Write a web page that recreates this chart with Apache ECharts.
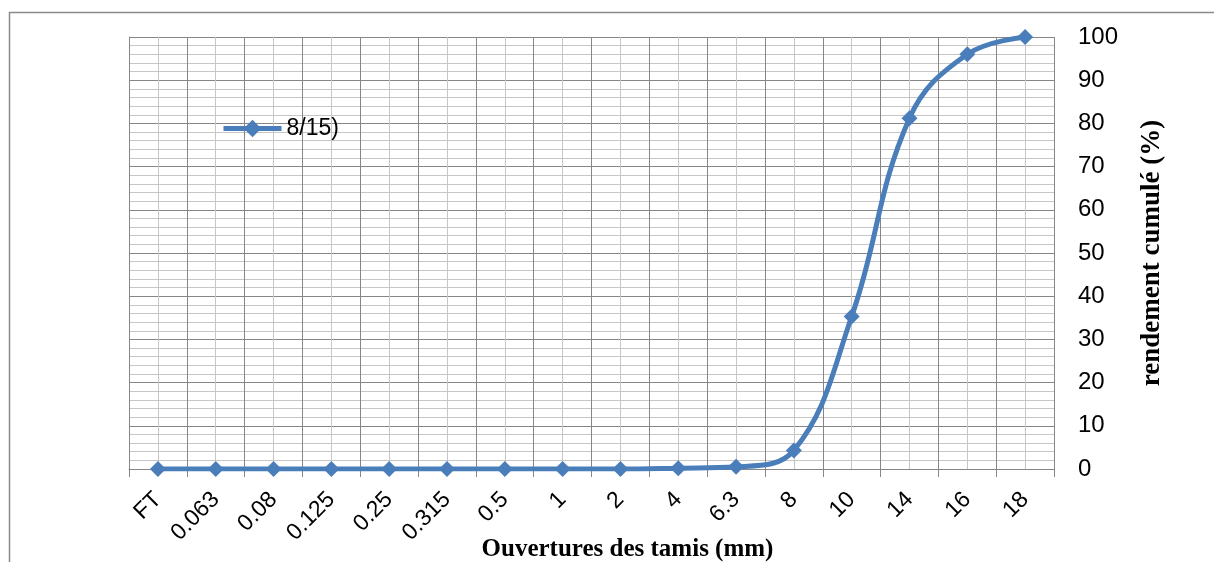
<!DOCTYPE html>
<html>
<head>
<meta charset="utf-8">
<script src="https://cdn.jsdelivr.net/npm/echarts@6/dist/echarts.min.js"></script>
<style>
  html, body { margin: 0; padding: 0; background: #fff; }
  #chart { width: 1214px; height: 562px; }
</style>
</head>
<body>
<div id="chart"></div>
<script>
// Sieve openings (mm) and cumulative passing (%) for the 8/15 aggregate
const sieveLabels = ['FT', '0.063', '0.08', '0.125', '0.25', '0.315', '0.5', '1', '2', '4', '6.3', '8', '10', '14', '16', '18'];
const cumulative = [0, 0, 0, 0, 0, 0, 0, 0, 0, 0.2, 0.5, 4.3, 35.3, 81.2, 96, 100];
const seriesName = '8/15)';
const yTicks = { min: 0, max: 100, step: 10 };

const major = '#868686';
const minor = '#c6c6c6';
const blue = '#4a7ebb';

const chart = echarts.init(document.getElementById('chart'), null, { renderer: 'canvas' });

chart.setOption({
  animation: false,
  backgroundColor: '#ffffff',
  graphic: [{
    type: 'rect',
    shape: { x: 9.5, y: 12.5, width: 1300, height: 600 },
    style: { fill: 'none', stroke: '#8a8a8a', lineWidth: 1.5 },
    silent: true
  }],
  grid: { left: 129, right: 160, top: 37, bottom: 93, containLabel: false, outerBoundsMode: 'none' },
  legend: {
    left: 216,
    top: 112,
    itemWidth: 58,
    itemHeight: 22,
    itemGap: 10,
    lineStyle: { width: 5 },
    textStyle: { fontFamily: 'Liberation Sans', fontSize: 23, color: '#000' },
    data: [seriesName]
  },
  xAxis: [{
    type: 'category',
    data: sieveLabels,
    boundaryGap: true,
    axisLine: { show: true, lineStyle: { color: major, width: 1 } },
    axisTick: { show: true, alignWithLabel: false, length: 8, lineStyle: { color: major } },
    axisLabel: {
      rotate: 45, margin: 27, interval: 0,
      fontFamily: 'Liberation Sans', fontSize: 23, color: '#000'
    },
    splitLine: { show: false },
    name: 'Ouvertures des tamis (mm)',
    nameLocation: 'middle',
    nameGap: 68,
    nameMoveOverlap: false,
    nameTextStyle: {
      fontFamily: 'Liberation Serif', fontWeight: 'bold', fontSize: 25, color: '#000',
      padding: [0, 0, 0, 72]
    }
  }, {
    // helper axis carrying the vertical grid (boundaries + category centres)
    type: 'value',
    min: 0, max: 16, interval: 1,
    position: 'bottom',
    axisLine: { show: false },
    axisTick: { show: false },
    axisLabel: { show: false },
    splitLine: { show: true, lineStyle: { color: major, width: 1 } },
    minorTick: { show: false, splitNumber: 2 },
    minorSplitLine: { show: true, lineStyle: { color: minor, width: 1 } }
  }],
  yAxis: {
    type: 'value',
    position: 'right',
    min: yTicks.min, max: yTicks.max, interval: yTicks.step,
    axisLine: { show: true, lineStyle: { color: major, width: 1 } },
    axisTick: { show: true, inside: false, length: 7, lineStyle: { color: major } },
    axisLabel: { margin: 24, fontFamily: 'Liberation Sans', fontSize: 24, color: '#000' },
    splitLine: { show: true, lineStyle: { color: major, width: 1 } },
    minorTick: { show: false, splitNumber: 5 },
    minorSplitLine: { show: true, lineStyle: { color: minor, width: 1 } },
    name: 'rendement cumulé (%)',
    nameLocation: 'middle',
    nameRotate: 90,
    nameGap: 85,
    nameMoveOverlap: false,
    nameTextStyle: { fontFamily: 'Liberation Serif', fontWeight: 'bold', fontSize: 27, color: '#000' }
  },
  series: [{
    name: seriesName,
    type: 'line',
    xAxisIndex: 0,
    data: cumulative,
    smooth: 0.4,
    symbol: 'diamond',
    symbolSize: 16,
    lineStyle: { color: blue, width: 5 },
    itemStyle: { color: blue },
    z: 5
  }]
});
</script>
</body>
</html>
